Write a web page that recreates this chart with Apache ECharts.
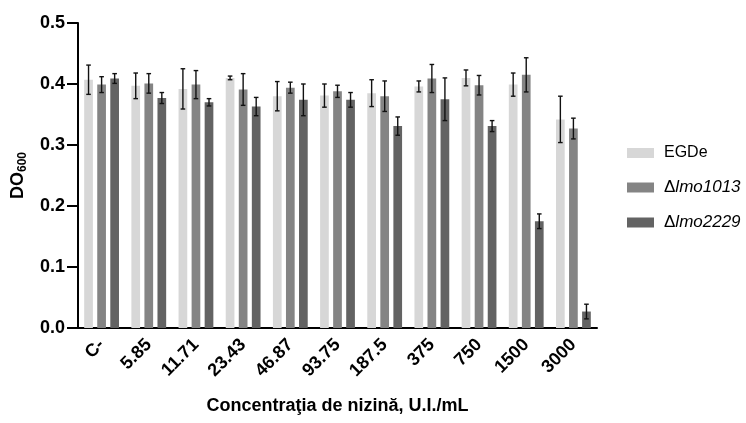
<!DOCTYPE html>
<html>
<head>
<meta charset="utf-8">
<script src="https://cdn.jsdelivr.net/npm/echarts@6/dist/echarts.min.js"></script>
<style>
html,body{margin:0;padding:0;background:#fff;}
#chart{width:746px;height:423px;}
</style>
</head>
<body>
<div id="chart"></div>
<script>
const categories = ['C-','5.85','11.71','23.43','46.87','93.75','187.5','375','750','1500','3000'];
const seriesNames = ['EGDe','\u0394lmo1013','\u0394lmo2229'];
const egde = [0.407,0.397,0.392,0.410,0.380,0.381,0.385,0.396,0.410,0.399,0.342];
const egdeErr = [0.024,0.021,0.033,0.003,0.024,0.019,0.022,0.009,0.013,0.019,0.038];
const lmo1013 = [0.399,0.401,0.399,0.391,0.394,0.388,0.380,0.409,0.398,0.415,0.327];
const lmo1013Err = [0.013,0.016,0.023,0.026,0.009,0.010,0.025,0.023,0.016,0.028,0.017];
const lmo2229 = [0.409,0.377,0.370,0.363,0.374,0.374,0.331,0.375,0.331,0.175,0.027];
const lmo2229Err = [0.008,0.009,0.006,0.015,0.026,0.012,0.015,0.035,0.009,0.012,0.012];
const yTicks = [0,0.1,0.2,0.3,0.4,0.5];

const colors = ['#d7d7d7','#848484','#636363'];
const values = [egde, lmo1013, lmo2229];
const errors = [egdeErr, lmo1013Err, lmo2229Err];
const BAR_W = 8.7;
const BAR_GAP = 0.5;
const FONT = 'Liberation Sans, Arial, sans-serif';

const chart = echarts.init(document.getElementById('chart'), null, {renderer:'canvas'});

const series = [];
values.forEach((vals, i) => {
  series.push({
    name: seriesNames[i],
    type: 'bar',
    data: vals,
    barWidth: BAR_W,
    barGap: (BAR_GAP*100) + '%',
    itemStyle: {color: colors[i]},
    z: 2
  });
});
values.forEach((vals, i) => {
  const off = (i - 1) * BAR_W * (1 + BAR_GAP);
  series.push({
    name: 'err' + i,
    type: 'custom',
    z: 5,
    data: vals.map((v, k) => [k, v, errors[i][k]]),
    encode: {x: 0, y: 1},
    renderItem: function (params, api) {
      const c = api.value(0), v = api.value(1), e = api.value(2);
      const t = api.coord([c, v + e]);
      const b = api.coord([c, v - e]);
      const x = t[0] + off;
      const cap = 2.3;
      const st = {stroke: '#111', lineWidth: 1.4};
      return {
        type: 'group',
        children: [
          {type: 'line', shape: {x1: x, y1: t[1], x2: x, y2: b[1]}, style: st},
          {type: 'line', shape: {x1: x - cap, y1: t[1], x2: x + cap, y2: t[1]}, style: st},
          {type: 'line', shape: {x1: x - cap, y1: b[1], x2: x + cap, y2: b[1]}, style: st}
        ]
      };
    }
  });
});

chart.setOption({
  animation: false,
  backgroundColor: '#fff',
  grid: {left: 78, right: 149, top: 23, bottom: 95, containLabel: false},
  legend: {
    data: seriesNames,
    orient: 'vertical',
    left: 622,
    top: 140,
    itemWidth: 27,
    itemHeight: 10,
    itemGap: 18,
    icon: 'rect',
    formatter: function (name) {
      if (name.charAt(0) === '\u0394') return '{d|\u0394}{i|' + name.slice(1) + '}';
      return '{n|' + name + '}';
    },
    textStyle: {
      fontFamily: FONT,
      fontSize: 16,
      color: '#000',
      rich: {
        n: {fontFamily: FONT, fontSize: 16, color: '#000', padding: [0,0,0,5]},
        d: {fontFamily: FONT, fontSize: 17, color: '#000', padding: [0,0,0,5]},
        i: {fontFamily: FONT, fontSize: 17, color: '#000', fontStyle: 'italic'}
      }
    }
  },
  xAxis: {
    type: 'category',
    data: categories,
    boundaryGap: true,
    axisLine: {lineStyle: {color: '#000', width: 2}},
    axisTick: {alignWithLabel: true, length: 9, lineStyle: {color: '#000', width: 2}},
    axisLabel: {rotate: 45, margin: 14, color: '#000', fontWeight: 'bold', fontSize: 18, fontFamily: FONT, interval: 0},
    name: 'Concentraţia de nizină, U.I./mL',
    nameLocation: 'middle',
    nameGap: 69,
    nameTextStyle: {color: '#000', fontWeight: 'bold', fontSize: 18, fontFamily: FONT}
  },
  yAxis: {
    type: 'value',
    min: yTicks[0],
    max: yTicks[yTicks.length - 1],
    interval: 0.1,
    splitLine: {show: false},
    axisLine: {show: true, lineStyle: {color: '#000', width: 2}},
    axisTick: {show: true, length: 11, lineStyle: {color: '#000', width: 2}},
    axisLabel: {color: '#000', fontWeight: 'bold', fontSize: 18, fontFamily: FONT, margin: 13,
      formatter: v => v.toFixed(1)},
    name: '{a|DO}{b|600}',
    nameLocation: 'middle',
    nameRotate: 90,
    nameGap: 41,
    nameTextStyle: {
      rich: {
        a: {fontFamily: FONT, fontWeight: 'bold', fontSize: 18, color: '#000', verticalAlign: 'top', lineHeight: 19},
        b: {fontFamily: FONT, fontWeight: 'bold', fontSize: 12, color: '#000', verticalAlign: 'top', padding: [8,0,0,0], lineHeight: 13}
      }
    }
  },
  series: series
});
</script>
</body>
</html>
